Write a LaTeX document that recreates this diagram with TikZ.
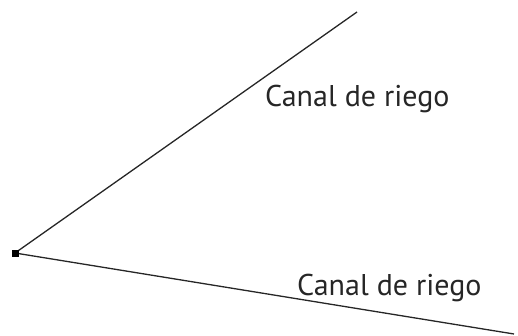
\documentclass[tikz,border=0pt]{standalone}
\usepackage{fontspec}
\setmainfont{PT Sans}
\begin{document}
\begin{tikzpicture}[x=1pt,y=1pt,
  canal/.style={draw=black!85,line width=1.3pt},
  lbl/.style={anchor=base west,inner sep=0pt,text=black!85,font=\fontsize{30}{36}\selectfont}]
\useasboundingbox (0,0) rectangle (518,335);
\coordinate (v) at (15,82);
\coordinate (a) at (357,323);
\coordinate (b) at (514,1);
\draw[canal] (v) -- (a);
\draw[canal] (v) -- (b);
\node[fill=black,minimum size=7pt,inner sep=0pt] (pt) at (v) {};
\node[lbl] (l1) at (265,228) {Canal de riego};
\node[lbl] (l2) at (297,40) {Canal de riego};
\end{tikzpicture}
\end{document}
